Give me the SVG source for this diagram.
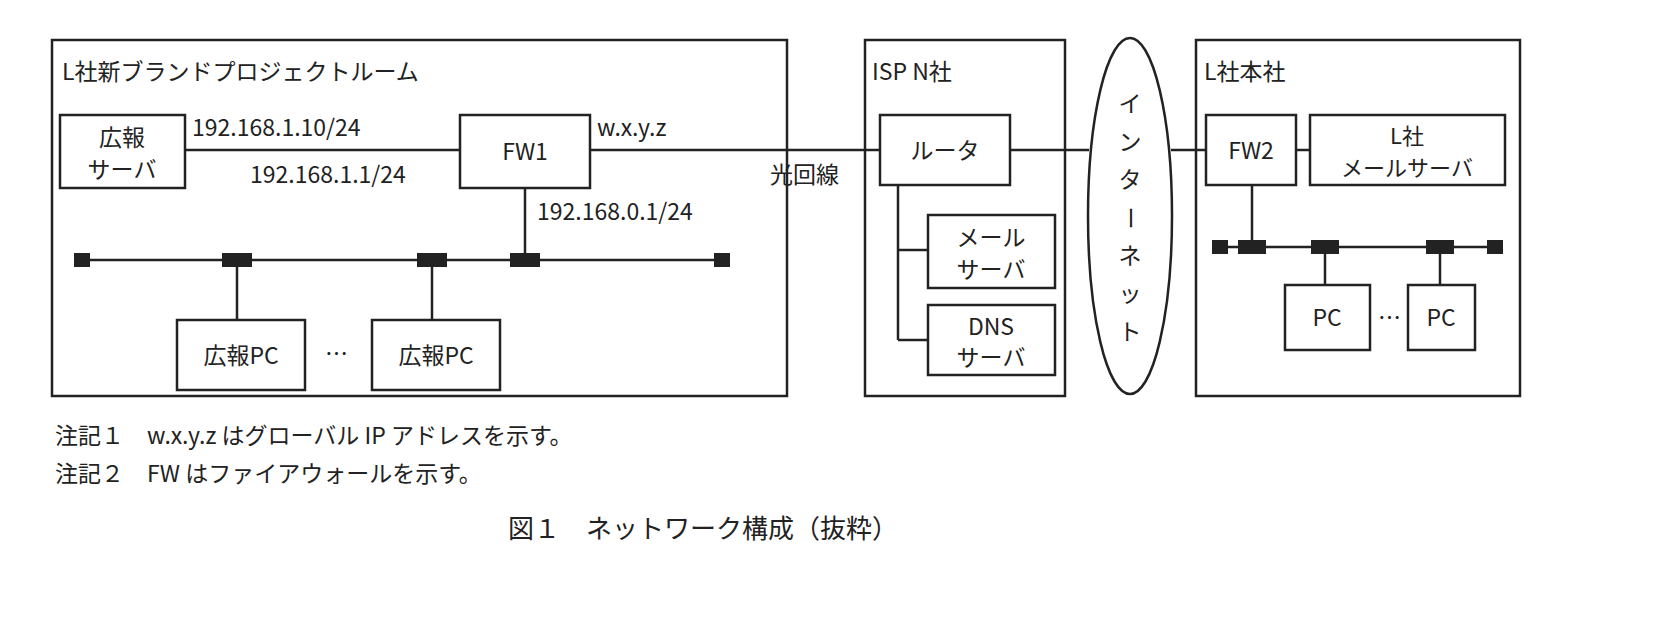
<svg xmlns="http://www.w3.org/2000/svg" width="1676" height="626" viewBox="0 0 1676 626">
<style>
rect,ellipse{fill:none;stroke:#222;stroke-width:2.5}
line{stroke:#222;stroke-width:2.5}
.sq{fill:#222;stroke:none}
.bg{fill:#fff;stroke:none}
text{font-family:"Noto Sans CJK JP","Liberation Sans",sans-serif;font-size:23px;fill:#222}
.m{text-anchor:middle}
</style>
<rect class="bg" width="1676" height="626"/>
<g id="room"><rect x="52" y="40" width="735" height="356"/><text x="62" y="80">L社新ブランドプロジェクトルーム</text></g>
<g id="isp"><rect x="865" y="40" width="200" height="356"/><text x="872" y="80">ISP N社</text></g>
<g id="hq"><rect x="1196" y="40" width="324" height="356"/><text x="1204" y="80">L社本社</text></g>
<g id="internet"><ellipse cx="1130" cy="216" rx="42" ry="178"/>
<text class="m" x="1130" y="112">イ</text><text class="m" x="1130" y="150">ン</text><text class="m" x="1130" y="188">タ</text><text class="m" x="1130" y="226" transform="rotate(90 1130 218)">ー</text><text class="m" x="1130" y="264">ネ</text><text class="m" x="1130" y="302">ッ</text><text class="m" x="1130" y="340">ト</text></g>
<g id="pr-server"><rect x="60" y="115" width="125" height="73"/><text class="m" x="122" y="146">広報</text><text class="m" x="122" y="178">サーバ</text></g>
<g id="fw1"><rect x="460" y="115" width="130" height="73"/><text class="m" x="525" y="160">FW1</text></g>
<g id="router"><rect x="880" y="115" width="130" height="70"/><text class="m" x="945" y="159">ルータ</text></g>
<g id="mail"><rect x="928" y="215" width="127" height="73"/><text class="m" x="991" y="246">メール</text><text class="m" x="991" y="278">サーバ</text></g>
<g id="dns"><rect x="928" y="305" width="127" height="70"/><text class="m" x="991" y="335">DNS</text><text class="m" x="991" y="366">サーバ</text></g>
<g id="fw2"><rect x="1206" y="115" width="90" height="70"/><text class="m" x="1251" y="159">FW2</text></g>
<g id="lmail"><rect x="1310" y="115" width="195" height="70"/><text class="m" x="1407" y="144" style="font-size:22px">L社</text><text class="m" x="1407" y="176" style="font-size:22px">メールサーバ</text></g>
<g id="prpc1"><rect x="177" y="320" width="128" height="70"/><text class="m" x="241" y="364">広報PC</text></g>
<g id="prpc2"><rect x="372" y="320" width="128" height="70"/><text class="m" x="436" y="364">広報PC</text></g>
<g id="pc1"><rect x="1285" y="285" width="85" height="65"/><text class="m" x="1327" y="326">PC</text></g>
<g id="pc2"><rect x="1408" y="285" width="67" height="65"/><text class="m" x="1441" y="326">PC</text></g>
<g id="connectors">
<line x1="185" y1="150" x2="460" y2="150"/><line x1="590" y1="150" x2="880" y2="150"/>
<line x1="1010" y1="150" x2="1089" y2="150"/><line x1="1171" y1="150" x2="1206" y2="150"/>
<line x1="1296" y1="150" x2="1310" y2="150"/>
<line x1="82" y1="260" x2="722" y2="260"/><line x1="525" y1="188" x2="525" y2="260"/>
<line x1="237" y1="260" x2="237" y2="320"/><line x1="432" y1="260" x2="432" y2="320"/>
<line x1="898" y1="185" x2="898" y2="340"/><line x1="898" y1="250" x2="928" y2="250"/><line x1="898" y1="340" x2="928" y2="340"/>
<line x1="1220" y1="247" x2="1495" y2="247"/><line x1="1252" y1="185" x2="1252" y2="247"/>
<line x1="1325" y1="247" x2="1325" y2="285"/><line x1="1440" y1="247" x2="1440" y2="285"/>
<rect class="sq" x="74" y="253" width="16" height="14"/><rect class="sq" x="222" y="253" width="30" height="14"/><rect class="sq" x="417" y="253" width="30" height="14"/><rect class="sq" x="510" y="253" width="30" height="14"/><rect class="sq" x="714" y="253" width="16" height="14"/>
<rect class="sq" x="1212" y="240" width="16" height="14"/><rect class="sq" x="1238" y="240" width="28" height="14"/><rect class="sq" x="1311" y="240" width="28" height="14"/><rect class="sq" x="1426" y="240" width="28" height="14"/><rect class="sq" x="1487" y="240" width="16" height="14"/>
</g>
<text x="192" y="136">192.168.1.10/24</text>
<text x="250" y="183">192.168.1.1/24</text>
<text x="597" y="136">w.x.y.z</text>
<text x="537" y="220">192.168.0.1/24</text>
<text x="770" y="183">光回線</text>
<text x="325" y="362">…</text><text x="1378" y="326">…</text>
<text x="55" y="444">注記１　w.x.y.z はグローバル IP アドレスを示す。</text>
<text x="55" y="482">注記２　FW はファイアウォールを示す。</text>
<text x="508" y="538" style="font-size:26px">図１　ネットワーク構成（抜粋）</text>
</svg>
